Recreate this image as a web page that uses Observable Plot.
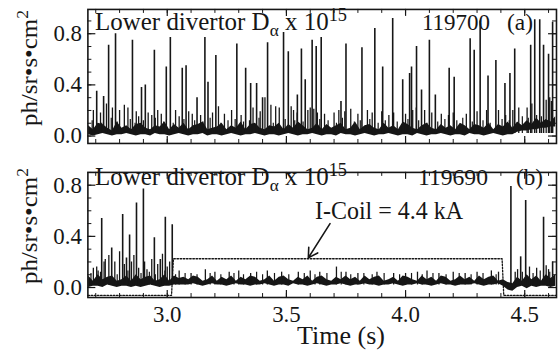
<!DOCTYPE html>
<html><head><meta charset="utf-8">
<script src="https://cdn.jsdelivr.net/npm/d3@7"></script>
<script src="https://cdn.jsdelivr.net/npm/@observablehq/plot@0.6"></script>
<style>
html,body{margin:0;padding:0;background:#fff;overflow:hidden}
#wrap{position:relative;width:558px;height:352px;overflow:hidden;font-family:"Liberation Serif","Times New Roman",serif;color:#161616}
#wrap svg{position:absolute;left:0}
.lbl{position:absolute;font-size:24.5px;line-height:1;white-space:nowrap;transform-origin:0 0}
.num{font-size:23px}
.big{font-size:26px}
.sub{font-size:17px;position:relative;top:6px}
.sup{font-size:18px;position:relative;top:-9px}
.ylab{position:absolute;font-size:24px;line-height:1;white-space:nowrap}
.ysup{font-size:17px;position:relative;top:-9px}
</style></head><body><div id="wrap"></div>
<script>
// ---------- data ----------
const xDomain = [2.667, 4.6333];
const yDomainA = [-0.058, 0.99];
const yDomainB = [-0.078, 0.9];
const xTickLabels = [3.0, 3.5, 4.0, 4.5];
const yTickLabels = [0.0, 0.4, 0.8];
const xMinorTicks = [2.7,2.8,2.9,3.0,3.1,3.2,3.3,3.4,3.5,3.6,3.7,3.8,3.9,4.0,4.1,4.2,4.3,4.4,4.5,4.6];
const yMinorTicks = [0.0,0.1,0.2,0.3,0.4,0.5,0.6,0.7,0.8,0.9];

// baseline noise band (lower / upper envelope), sampled every 0.02 s from 2.67 s
const bandStart = 2.67, bandStep = 0.02;
const hiA = [.08,.05,.10,.09,.06,.04,.11,.06,.08,.05,
             .09,.10,.06,.05,.08,.07,.11,.05,.09,.06,
             .10,.05,.08,.09,.11,.05,.06,.07,.10,.05,
             .08,.06,.11,.05,.09,.10,.06,.05,.08,.07,
             .10,.05,.09,.06,.11,.08,.05,.06,.10,.05,
             .09,.06,.08,.10,.05,.06,.11,.05,.08,.09,
             .06,.05,.10,.06,.08,.05,.11,.09,.06,.05,
             .08,.10,.06,.05,.09,.06,.08,.05,.10,.08,
             .05,.09,.08,.06,.10,.05,.09,.07,.11,.06,
             .11,.08,.12,.09,.14,.10,.13,.11,.15];
const loA = [.01,.00,.01,.02,.01,.00,.01,.01,.02,.01,
             .00,.01,.01,.00,.02,.01,.01,.00,.01,.02,
             .01,.00,.01,.01,.02,.00,.01,.01,.00,.01,
             .02,.01,.00,.01,.01,.02,.01,.00,.01,.01,
             .00,.01,.02,.01,.00,.01,.01,.02,.01,.00,
             .01,.01,.00,.02,.01,.01,.00,.01,.02,.01,
             .00,.01,.01,.02,.01,.00,.01,.01,.00,.02,
             .01,.00,.01,.01,.02,.01,.00,.01,.01,.00,
             .02,.01,.01,.00,.01,.02,.01,.00,.01,.01,
             .03,.04,.04,.05,.05,.06,.06,.07,.07];
const hiB = [.09,.05,.10,.06,.08,.09,.05,.06,.09,.05,
             .10,.06,.08,.09,.05,.06,.10,.05,.09,.07,
             .08,.06,.09,.08,.05,.06,.09,.05,.08,.06,
             .09,.05,.08,.06,.09,.08,.05,.06,.09,.05,
             .08,.09,.06,.05,.08,.06,.09,.05,.08,.09,
             .06,.05,.08,.06,.09,.06,.08,.05,.09,.06,
             .08,.09,.05,.06,.08,.05,.09,.08,.06,.05,
             .09,.06,.08,.05,.09,.08,.05,.06,.09,.06,
             .08,.05,.09,.06,.08,.09,.05,.06,.04,.03,
             .08,.05,.10,.06,.09,.05,.10,.07,.10];
const loB = [.00,.01,.01,.00,.02,.01,.00,.01,.01,.00,
             .01,.00,.01,.02,.01,.00,.01,.01,.02,.02,
             .02,.02,.03,.02,.01,.02,.03,.02,.02,.01,
             .02,.03,.02,.02,.01,.02,.02,.03,.02,.01,
             .02,.02,.01,.03,.02,.02,.01,.02,.03,.02,
             .01,.02,.02,.03,.02,.01,.02,.02,.03,.02,
             .02,.01,.02,.02,.03,.02,.01,.02,.02,.03,
             .02,.02,.01,.02,.03,.02,.02,.01,.02,.02,
             .02,.03,.02,.01,.02,.02,.03,.01,-.02,-.03,
             .00,.01,-.01,.01,.00,.01,.01,.00,.01];

// ELM spikes (time s, peak value)
const spikeTA = [2.704,2.733,2.754,2.783,2.854,2.892,2.908,2.946,2.996,3.013,3.063,3.079,3.125,3.158,3.171,3.204,3.292,3.329,3.350,3.375,3.400,3.421,
                 3.488,3.508,3.546,3.563,3.579,3.608,3.625,3.646,3.729,3.750,3.817,3.871,3.904,3.946,3.988,4.017,4.025,4.046,4.067,4.100,4.125,
                 4.183,4.204,4.271,4.288,4.313,4.346,4.379,4.417,4.438,4.458,4.525,4.542,4.563,4.579,4.600,4.617];
const spikeHA = [.35,.31,.71,.80,.75,.38,.40,.67,.54,.77,.53,.55,.30,.77,.42,.63,.72,.53,.41,.41,.30,.73,
                 .81,.66,.32,.68,.44,.75,.70,.77,.27,.72,.69,.84,.54,.92,.44,.49,.54,.70,.36,.75,.32,
                 .53,.46,.76,.67,.90,.47,.59,.41,.49,.68,.71,.91,.91,.71,.64,.89];
const smallTA = [2.69,2.72,2.745,2.77,2.80,2.82,2.835,2.87,2.88,2.92,2.935,2.96,2.975,3.035,3.05,3.09,3.105,3.14,3.19,3.215,3.24,3.27,3.31,3.36,3.39,3.41,3.435,3.455,3.47,
                 3.52,3.53,3.545,3.59,3.60,3.615,3.63,3.66,3.70,3.72,3.745,3.77,3.80,3.84,3.86,3.90,3.93,3.95,4.00,4.03,4.045,4.08,4.11,4.15,4.18,4.20,4.255,4.30,4.34,4.39,4.42,4.45,4.475,4.51,4.53,4.59,4.605,4.612];
const smallHA = [.20,.18,.25,.22,.20,.24,.22,.19,.15,.18,.16,.20,.17,.20,.15,.19,.17,.16,.18,.23,.17,.20,.16,.22,.19,.30,.24,.23,.22,
                 .23,.20,.18,.20,.22,.21,.18,.17,.18,.20,.19,.21,.17,.20,.18,.19,.16,.18,.17,.20,.22,.20,.18,.17,.16,.18,.17,.19,.20,.20,.16,.20,.22,.22,.25,.28,.30,.27];
const noiseTA = [2.685,2.725,2.765,2.79,2.845,2.865,2.90,2.95,2.985,3.025,3.07,3.115,3.15,3.18,3.225,3.255,3.285,3.32,3.345,3.385,3.445,3.495,3.535,3.57,
                 3.64,3.675,3.71,3.735,3.785,3.81,3.85,3.885,3.915,3.965,4.01,4.055,4.09,4.135,4.165,4.215,4.24,4.28,4.325,4.355,4.405,4.435,4.49,4.515,4.55,4.57];
const noiseHA = [.12,.10,.14,.11,.13,.10,.12,.14,.11,.10,.13,.12,.11,.14,.10,.12,.13,.11,.12,.14,.10,.13,.12,.11,
                 .13,.12,.10,.14,.11,.12,.13,.10,.12,.11,.13,.12,.10,.11,.13,.12,.14,.11,.12,.10,.13,.12,.15,.14,.16,.15];

const spikeTB = [2.725,2.767,2.813,2.829,2.842,2.871,2.900,2.946,2.971,2.992,3.021,4.442,4.483,4.504,4.579,4.617];
const spikeHB = [.54,.31,.57,.23,.41,.66,.77,.39,.22,.55,.49,.79,.24,.68,.55,.20];
const smallTB = [2.69,2.704,2.71,2.735,2.74,2.755,2.78,2.80,2.82,2.85,2.86,2.88,2.905,2.915,2.935,2.96,2.98,3.00,3.01,
                 3.05,3.10,3.16,3.20,3.26,3.30,3.35,3.42,3.48,3.55,3.60,3.64,3.71,3.75,3.80,3.88,3.95,4.00,4.05,4.09,4.14,4.20,4.25,4.30,4.36,4.39,
                 4.46,4.47,4.52,4.55,4.59,4.60];
const smallHB = [.15,.16,.13,.20,.22,.25,.20,.28,.18,.20,.25,.15,.20,.14,.22,.18,.26,.16,.20,
                 .13,.11,.14,.12,.12,.13,.11,.13,.12,.12,.13,.12,.16,.12,.11,.12,.11,.11,.12,.13,.11,.12,.11,.12,.13,.12,
                 .12,.14,.16,.15,.17,.14];
const noiseTB = [2.68,2.72,2.79,2.835,2.89,2.925,2.95,2.99,3.035,3.075,3.125,3.18,3.225,3.28,3.32,3.375,3.40,3.45,3.51,3.575,3.62,3.67,3.73,3.77,
                 3.825,3.86,3.91,3.975,4.025,4.07,4.115,4.17,4.225,4.275,4.325,4.38,4.49,4.535,4.565,4.605];
const noiseHB = [.11,.12,.10,.13,.11,.12,.10,.13,.10,.11,.10,.11,.10,.11,.10,.12,.10,.11,.10,.11,.10,.11,.12,.10,
                 .11,.10,.11,.10,.11,.10,.11,.10,.11,.10,.11,.10,.12,.11,.13,.12];

// I-coil current trace (scaled to panel units)
const coilT = [2.667, 3.018, 3.026, 4.405, 4.412, 4.6333];
const coilV = [-0.062, -0.062, 0.225, 0.225, -0.062, -0.062];

// annotation
const arrowFrom = [3.683, 0.50], arrowTo = [3.592, 0.232];
const coilText = "I-Coil = 4.4 kA";

// ---------- build ----------
const band = (lo, hi) => lo.map((l, i) => ({t: bandStart + i * bandStep, lo: l, hi: hi[i]}));
const pairs = (ts, hs) => ts.map((t, i) => ({t, h: hs[i]}));
const ink = "#161616";
const serif = '"Liberation Serif", "Times New Roman", serif';
const W = 562, ML = 88, MR = 2;
const plotW = W - ML - MR;

function panel({height, mt, mb, yDomain, lo, hi, spikes, small, noise, extra, xAxis}) {
  const plotH = height - mt - mb;
  return Plot.plot({
    width: W, height, marginLeft: ML, marginRight: MR, marginTop: mt, marginBottom: mb,
    x: {domain: xDomain, axis: null},
    y: {domain: yDomain, axis: null},
    style: {fontFamily: serif, fontSize: "23px", color: ink, background: "transparent", overflow: "visible"},
    marks: [
      Plot.areaY(band(lo, hi), {x: "t", y1: "lo", y2: "hi", fill: ink, clip: true}),
      Plot.ruleX(pairs(noise.t, noise.h), {x: "t", y1: 0.02, y2: "h", stroke: ink, strokeWidth: 1.2, clip: true}),
      Plot.ruleX(pairs(small.t, small.h), {x: "t", y1: 0.02, y2: "h", stroke: ink, strokeWidth: 1.3, clip: true}),
      Plot.ruleX(pairs(spikes.t, spikes.h), {x: "t", y1: 0.02, y2: "h", stroke: ink, strokeWidth: 1.6, clip: true}),
      ...extra,
      // inward ticks on all four sides
      Plot.tickX(xMinorTicks, {x: d => d, insetTop: plotH - 4, stroke: ink, strokeWidth: 1}),
      Plot.tickX(xMinorTicks, {x: d => d, insetBottom: plotH - 4, stroke: ink, strokeWidth: 1}),
      Plot.tickX(xTickLabels, {x: d => d, insetTop: plotH - 7, stroke: ink, strokeWidth: 1.2}),
      Plot.tickX(xTickLabels, {x: d => d, insetBottom: plotH - 7, stroke: ink, strokeWidth: 1.2}),
      Plot.tickY(yMinorTicks.filter(d => d <= yDomain[1]), {y: d => d, insetRight: plotW - 4, stroke: ink, strokeWidth: 1}),
      Plot.tickY(yMinorTicks.filter(d => d <= yDomain[1]), {y: d => d, insetLeft: plotW - 4, stroke: ink, strokeWidth: 1}),
      Plot.tickY(yTickLabels, {y: d => d, insetRight: plotW - 8, stroke: ink, strokeWidth: 1.2}),
      Plot.tickY(yTickLabels, {y: d => d, insetLeft: plotW - 8, stroke: ink, strokeWidth: 1.2}),
      Plot.frame({stroke: ink, strokeWidth: 1.6}),
      Plot.axisY(yTickLabels, {tickSize: 0, tickPadding: 6, tickFormat: d => d.toFixed(1), label: null, fontSize: 23, fontFamily: serif, fill: ink}),
      ...(xAxis ? [Plot.axisX(xTickLabels, {tickSize: 0, tickPadding: 8, tickFormat: d => d.toFixed(1), label: null, fontSize: 23, fontFamily: serif, fill: ink})] : [])
    ]
  });
}

const wrap = document.getElementById("wrap");

const svgA = panel({
  height: 152, mt: 9, mb: 8, yDomain: yDomainA, lo: loA, hi: hiA,
  spikes: {t: spikeTA, h: spikeHA}, small: {t: smallTA, h: smallHA}, noise: {t: noiseTA, h: noiseHA}, extra: [], xAxis: false
});
svgA.style.top = "0px";
wrap.appendChild(svgA);

const coil = coilT.map((t, i) => ({t, v: coilV[i]}));
const svgB = panel({
  height: 192, mt: 12, mb: 54, yDomain: yDomainB, lo: loB, hi: hiB,
  spikes: {t: spikeTB, h: spikeHB}, small: {t: smallTB, h: smallHB}, noise: {t: noiseTB, h: noiseHB}, xAxis: true,
  extra: [
    Plot.line(coil, {x: "t", y: "v", stroke: ink, strokeWidth: 1.3, strokeDasharray: "1.6,1.6"}),
    Plot.arrow([{x1: arrowFrom[0], y1: arrowFrom[1], x2: arrowTo[0], y2: arrowTo[1]}],
      {x1: "x1", y1: "y1", x2: "x2", y2: "y2", stroke: ink, strokeWidth: 1.6, headLength: 10})
  ]
});
svgB.style.top = "160px";
wrap.appendChild(svgB);

// text overlays, each stretched to the width measured on the reference
function addLabel(html, cls, left, top, targetW) {
  const d = document.createElement("div");
  d.className = cls;
  d.innerHTML = html;
  d.style.left = left + "px";
  d.style.top = top + "px";
  wrap.appendChild(d);
  const w = d.getBoundingClientRect().width;
  if (targetW && w > 0) d.style.transform = `scaleX(${targetW / w})`;
  return d;
}
function addYLabel(html, cx, cy, targetLen) {
  const d = document.createElement("div");
  d.className = "ylab";
  d.innerHTML = html;
  wrap.appendChild(d);
  const r = d.getBoundingClientRect();
  const k = targetLen / r.width;
  d.style.left = (cx - r.width / 2) + "px";
  d.style.top = (cy - r.height / 2) + "px";
  d.style.transformOrigin = "50% 50%";
  d.style.transform = `rotate(-90deg) scaleX(${k})`;
}
const titleText = 'Lower divertor D<span class="sub">α</span> x 10<span class="sup">15</span>';
const shotA = "119700", shotB = "119690";
addLabel(titleText, "lbl", 95, 10, 252);
addLabel(shotA, "lbl num", 422, 11, 68);
addLabel("(a)", "lbl num", 507, 11, 26);
addLabel(titleText, "lbl", 95, 165, 252);
addLabel(shotB, "lbl num", 418, 166, 70);
addLabel("(b)", "lbl num", 516, 166, 27);
addLabel(coilText, "lbl", 315, 199, 148);
const yLabel = 'ph/sr•s•cm<span class="ysup">2</span>';
addYLabel(yLabel, 29, 68, 116);
addYLabel(yLabel, 29, 226, 116);
addLabel("Time (s)", "lbl big", 297, 323, 88);
</script></body></html>
